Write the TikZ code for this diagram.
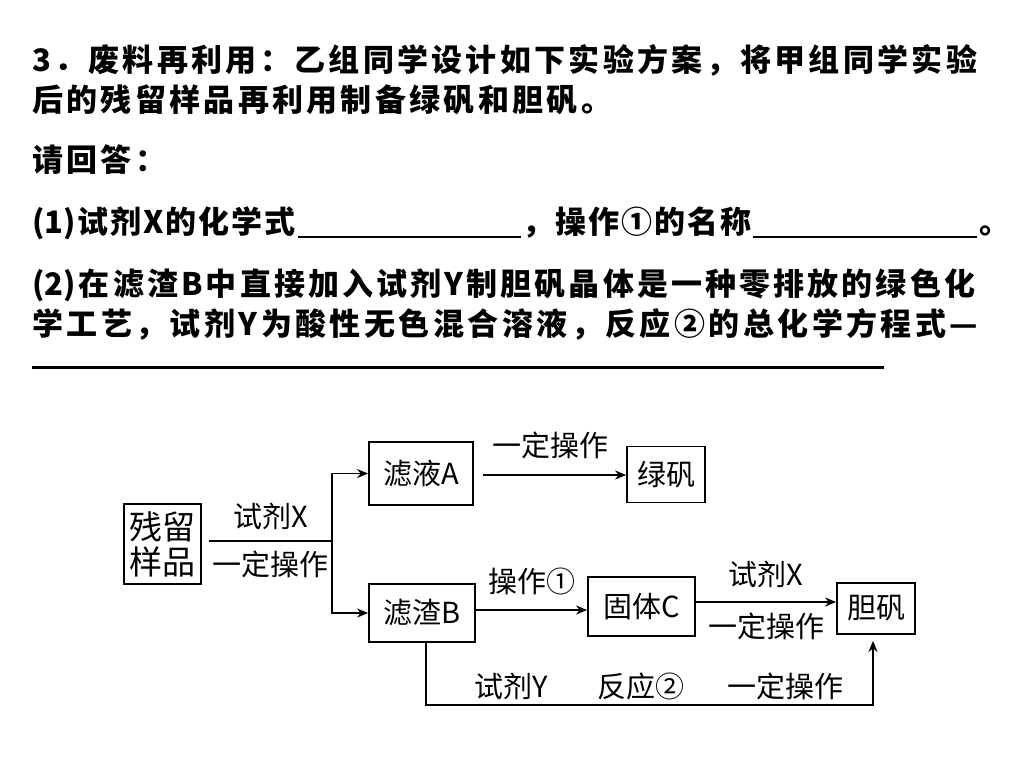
\documentclass[tikz,border=0pt]{standalone}
\usepackage{fontspec}
\setmainfont{Noto Sans CJK SC}
\newfontfamily\flowfont{Noto Sans CJK SC}
\usetikzlibrary{arrows.meta}
\makeatletter
\newcommand\spreadline[2]{\makebox[#1][s]{\@tfor\sp@ch:=#2\do{\sp@ch\hfil}\unskip}}
\makeatother
\tikzset{
  qtext/.style={anchor=base west, inner sep=0pt, font=\fontsize{31}{36}\selectfont\bfseries},
  box/.style={draw, line width=1.8pt, inner sep=0pt, align=center, font=\flowfont\fontsize{29}{34}\selectfont},
  link/.style={line width=1.8pt},
  arr/.style={link, -{Stealth[length=11pt,width=9pt]}},
  lab/.style={inner sep=1pt, font=\flowfont\fontsize{29}{34}\selectfont}
}
\begin{document}
\begin{tikzpicture}[x=1pt,y=-1pt]
\useasboundingbox (0,0) rectangle (1024,768);
\node[qtext] (q1) at (32,71) {\spreadline{945pt}{3．废料再利用：乙组同学设计如下实验方案，将甲组同学实验}};
\node[qtext] (q2) at (32,111) {\spreadline{580pt}{后的残留样品再利用制备绿矾和胆矾。}};
\node[qtext] (q3) at (32,171) {\spreadline{134pt}{请回答：}};
\node[qtext] (q4) at (32,233) {\spreadline{978pt}{{(1)}试剂X的化学式{\rule[-5pt]{223pt}{2.5pt}}，操作①的名称{\rule[-5pt]{224pt}{2.5pt}}。}};
\node[qtext] (q5) at (32,295) {\spreadline{943pt}{{(2)}在滤渣B中直接加入试剂Y制胆矾晶体是一种零排放的绿色化}};
\node[qtext] (q6) at (32,335) {\spreadline{946pt}{学工艺，试剂Y为酸性无色混合溶液，反应②的总化学方程式—}};
\draw[line width=3pt] (32,367) -- (884,367);

\node[box, minimum width=77pt, minimum height=80pt, font=\flowfont\fontsize{33}{35}\selectfont] (canliu) at (162.5,544) {残留\\样品};
\node[box, minimum width=104pt, minimum height=63pt] (lvA) at (421,473.5) {滤液A};
\node[box, minimum width=78pt, minimum height=56pt] (lvfan) at (666,474.5) {绿矾};
\node[box, minimum width=106pt, minimum height=58pt] (zhaB) at (422,613) {滤渣B};
\node[box, minimum width=107pt, minimum height=59pt] (guC) at (641.5,606.5) {固体C};
\node[box, minimum width=78pt, minimum height=51pt] (danfan) at (876,608.5) {胆矾};
\coordinate (split) at (332,541);
\coordinate (bl) at (426,705);
\coordinate (br) at (873,705);

\draw[link] ([xshift=7pt]canliu.east |- split) -- node[lab, above=9pt]{试剂X} node[lab, below=8pt]{一定操作} (split);
\draw[arr] (split) |- (lvA);
\draw[arr] (split) |- (zhaB);
\draw[arr, shorten <=9pt] ([yshift=-1.5pt]lvA.east) -- ([yshift=-1.5pt]lvA.east -| lvfan.west) node[lab, midway, above=14pt]{一定操作};
\draw[arr] ([yshift=3pt]zhaB.east) -- ([yshift=3pt]zhaB.east -| guC.west) node[lab, midway, above=13pt]{操作①};
\draw[arr, line width=2.6pt] ([yshift=4.5pt]guC.east) -- ([yshift=4.5pt]guC.east -| danfan.west) node[lab, midway, above=12pt]{试剂X} node[lab, midway, below=9pt]{一定操作};
\draw[arr, shorten >=6pt] (zhaB.south -| bl) -- (bl) -- node[lab, pos=0.19, above=3pt]{试剂Y} node[lab, pos=0.48, above=3pt]{反应②} node[lab, pos=0.805, above=3pt]{一定操作} (br) -- (danfan.south -| br);
\end{tikzpicture}
\end{document}
